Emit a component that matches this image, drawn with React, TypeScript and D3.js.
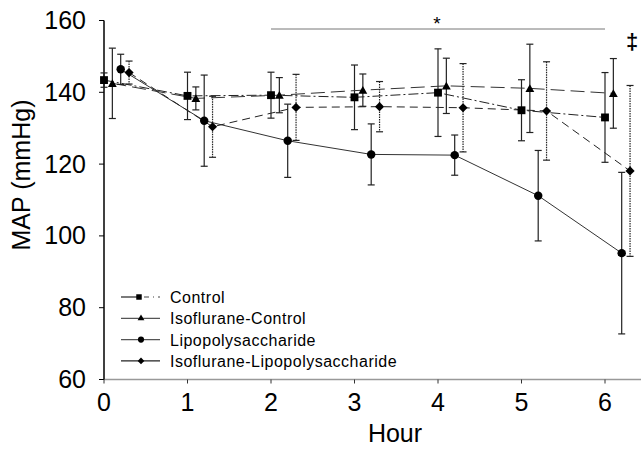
import * as d3 from 'd3';
import { useEffect, useRef } from 'react';

// hours for each group (groups are offset a bit so bars don't overlap)
const hours = [0, 1, 2, 3, 4, 5, 6];
const groupOffsets = [0, 0.1, 0.2, 0.3];

const seriesNames = ['Control', 'Isoflurane-Control', 'Lipopolysaccharide', 'Isoflurane-Lipopolysaccharide'];

const controlMean = [143.4, 139.0, 139.2, 138.6, 139.9, 135.0, 133.0];
const controlErr = [2.0, 6.6, 6.4, 9.0, 12.2, 8.5, 12.5];

const isoControlMean = [142.5, 138.3, 139.2, 140.6, 141.8, 141.1, 139.7];
const isoControlErr = [9.8, 3.2, 4.9, 4.5, 7.7, 12.3, 9.7];

const lpsMean = [146.4, 132.1, 126.5, 122.7, 122.5, 111.2, 95.2];
const lpsErr = [4.2, 12.7, 10.2, 8.5, 5.6, 12.6, 22.5];

const isoLpsMean = [145.5, 130.4, 135.8, 136.0, 135.7, 134.8, 118.1];
const isoLpsErr = [3.2, 8.5, 9.2, 7.0, 12.3, 13.7, 23.8];

const yTicks = [60, 80, 100, 120, 140, 160];
const xTicks = [0, 1, 2, 3, 4, 5, 6];

const FONT = '"Liberation Sans", Arial, sans-serif';

export default function App() {
    const ref = useRef<any>();

    useEffect(() => {
        const svg = d3.select<any, any>(ref.current);
        svg.selectAll('*').remove();

        const xScale = d3.scaleLinear().domain([0, 6]).range([104, 605]);
        const yScale = d3.scaleLinear().domain([60, 160]).range([379.5, 20.5]);

        const means = [controlMean, isoControlMean, lpsMean, isoLpsMean];
        const errs = [controlErr, isoControlErr, lpsErr, isoLpsErr];
        const dashes = ['10,3,2,3', '14,6', null, '8,5'];
        const lineColors = ['#222', '#333', '#333', '#222'];
        const barDash = [null, null, null, '1.5,1'];

        const shapes = [
            d3.symbol().type(d3.symbolSquare).size(62),
            d3.symbol().type(d3.symbolTriangle).size(34),
            d3.symbol().type(d3.symbolCircle).size(56),
            d3.symbol().type(d3.symbolSquare).size(42),
        ];
        const rotations = [0, 0, 0, 45];

        // axes
        svg.append('line')
            .attr('x1', xScale(0)).attr('x2', 641)
            .attr('y1', yScale(60)).attr('y2', yScale(60))
            .attr('stroke', '#999').attr('stroke-width', 1.5);
        svg.append('line')
            .attr('x1', xScale(0)).attr('x2', xScale(0))
            .attr('y1', yScale(160)).attr('y2', yScale(60))
            .attr('stroke', '#000').attr('stroke-width', 1.5);

        svg.selectAll('.ytick').data(yTicks).join('line')
            .attr('class', 'ytick')
            .attr('x1', xScale(0) - 5).attr('x2', xScale(0))
            .attr('y1', d => yScale(d)).attr('y2', d => yScale(d))
            .attr('stroke', '#000');
        svg.selectAll('.ylabel').data(yTicks).join('text')
            .attr('class', 'ylabel')
            .attr('x', 86)
            .attr('y', d => yScale(d) + 8.5)
            .attr('text-anchor', 'end')
            .attr('font-family', FONT)
            .attr('font-size', 25)
            .text(d => d);

        svg.selectAll('.xtick').data(xTicks).join('line')
            .attr('class', 'xtick')
            .attr('x1', d => xScale(d)).attr('x2', d => xScale(d))
            .attr('y1', yScale(60)).attr('y2', yScale(60) + 4)
            .attr('stroke', '#333');
        svg.selectAll('.xlabel').data(xTicks).join('text')
            .attr('class', 'xlabel')
            .attr('x', d => xScale(d))
            .attr('y', 411)
            .attr('text-anchor', 'middle')
            .attr('font-family', FONT)
            .attr('font-size', 25)
            .text(d => d);

        svg.append('text')
            .attr('x', 395).attr('y', 442)
            .attr('text-anchor', 'middle')
            .attr('font-family', FONT)
            .attr('font-size', 25)
            .text('Hour');
        svg.append('text')
            .attr('transform', 'translate(30, 175) rotate(-90)')
            .attr('text-anchor', 'middle')
            .attr('font-family', FONT)
            .attr('font-size', 25)
            .text('MAP (mmHg)');

        // significance markers
        svg.append('line')
            .attr('x1', xScale(2)).attr('x2', xScale(6))
            .attr('y1', 29).attr('y2', 29)
            .attr('stroke', '#777').attr('stroke-width', 1);
        svg.append('text')
            .attr('x', 437).attr('y', 30)
            .attr('text-anchor', 'middle')
            .attr('font-family', FONT)
            .attr('font-size', 19)
            .text('*');
        svg.append('text')
            .attr('x', 632).attr('y', 49)
            .attr('text-anchor', 'middle')
            .attr('font-family', FONT)
            .attr('font-size', 22)
            .attr('font-weight', 'bold')
            .text('‡');

        const plot = svg.append('g');

        means.forEach((m, s) => {
            const pts = hours.map((h, i) => ({ x: h + groupOffsets[s], y: m[i], e: errs[s][i] }));

            // error bars
            const bars = plot.append('g')
                .attr('stroke', '#222')
                .attr('stroke-width', 1.2)
                .attr('stroke-dasharray', barDash[s]);
            bars.selectAll('.v').data(pts).join('line')
                .attr('x1', d => xScale(d.x)).attr('x2', d => xScale(d.x))
                .attr('y1', d => yScale(d.y + d.e)).attr('y2', d => yScale(d.y - d.e));
            [1, -1].forEach(sign => {
                plot.append('g').attr('stroke', '#222').attr('stroke-width', 1.2)
                    .selectAll('line').data(pts).join('line')
                    .attr('x1', d => xScale(d.x) - 3.5).attr('x2', d => xScale(d.x) + 3.5)
                    .attr('y1', d => yScale(d.y + sign * d.e)).attr('y2', d => yScale(d.y + sign * d.e));
            });

            const line = d3.line<any>()
                .x(d => xScale(d.x))
                .y(d => yScale(d.y));
            plot.append('path')
                .datum(pts)
                .attr('d', line)
                .attr('fill', 'none')
                .attr('stroke', lineColors[s])
                .attr('stroke-width', 1)
                .attr('stroke-dasharray', dashes[s]);
        });

        means.forEach((m, s) => {
            plot.append('g').selectAll('path').data(hours).join('path')
                .attr('d', shapes[s] as any)
                .attr('transform', (h, i) => `translate(${xScale(h + groupOffsets[s])},${yScale(m[i]) + (s === 1 ? 1 : 0)}) rotate(${rotations[s]})`)
                .attr('fill', '#000');
        });

        // legend
        const legend = svg.append('g').attr('transform', 'translate(0, 297)');
        const legendShapes = [
            d3.symbol().type(d3.symbolSquare).size(30),
            d3.symbol().type(d3.symbolTriangle).size(20),
            d3.symbol().type(d3.symbolCircle).size(30),
            d3.symbol().type(d3.symbolSquare).size(22),
        ];
        seriesNames.forEach((name, s) => {
            const row = legend.append('g').attr('transform', `translate(0, ${s * 21.3})`);
            if (s === 0) {
                row.append('line').attr('x1', 121).attr('x2', 139).attr('y1', 0).attr('y2', 0)
                    .attr('stroke', '#222').attr('stroke-width', 1.2);
                row.append('line').attr('x1', 139).attr('x2', 160).attr('y1', 0).attr('y2', 0)
                    .attr('stroke', '#444').attr('stroke-width', 1.2).attr('stroke-dasharray', '1,4,5,4');
            } else {
                row.append('line').attr('x1', 121).attr('x2', 160).attr('y1', 0).attr('y2', 0)
                    .attr('stroke', s === 3 ? '#222' : '#555').attr('stroke-width', 1.2);
            }
            row.append('path')
                .attr('d', legendShapes[s] as any)
                .attr('transform', `translate(${s === 0 ? 139 : 141},0) rotate(${rotations[s]})`)
                .attr('fill', '#000');
            row.append('text')
                .attr('x', 170).attr('y', 6)
                .attr('font-family', FONT)
                .attr('font-size', 16)
                .attr('letter-spacing', 0.5)
                .text(name);
        });
    });

    return (
        <svg ref={ref} width={641} height={449}
            style={{ position: 'absolute', left: 0, top: 0, background: '#fff' }}></svg>
    );
}
